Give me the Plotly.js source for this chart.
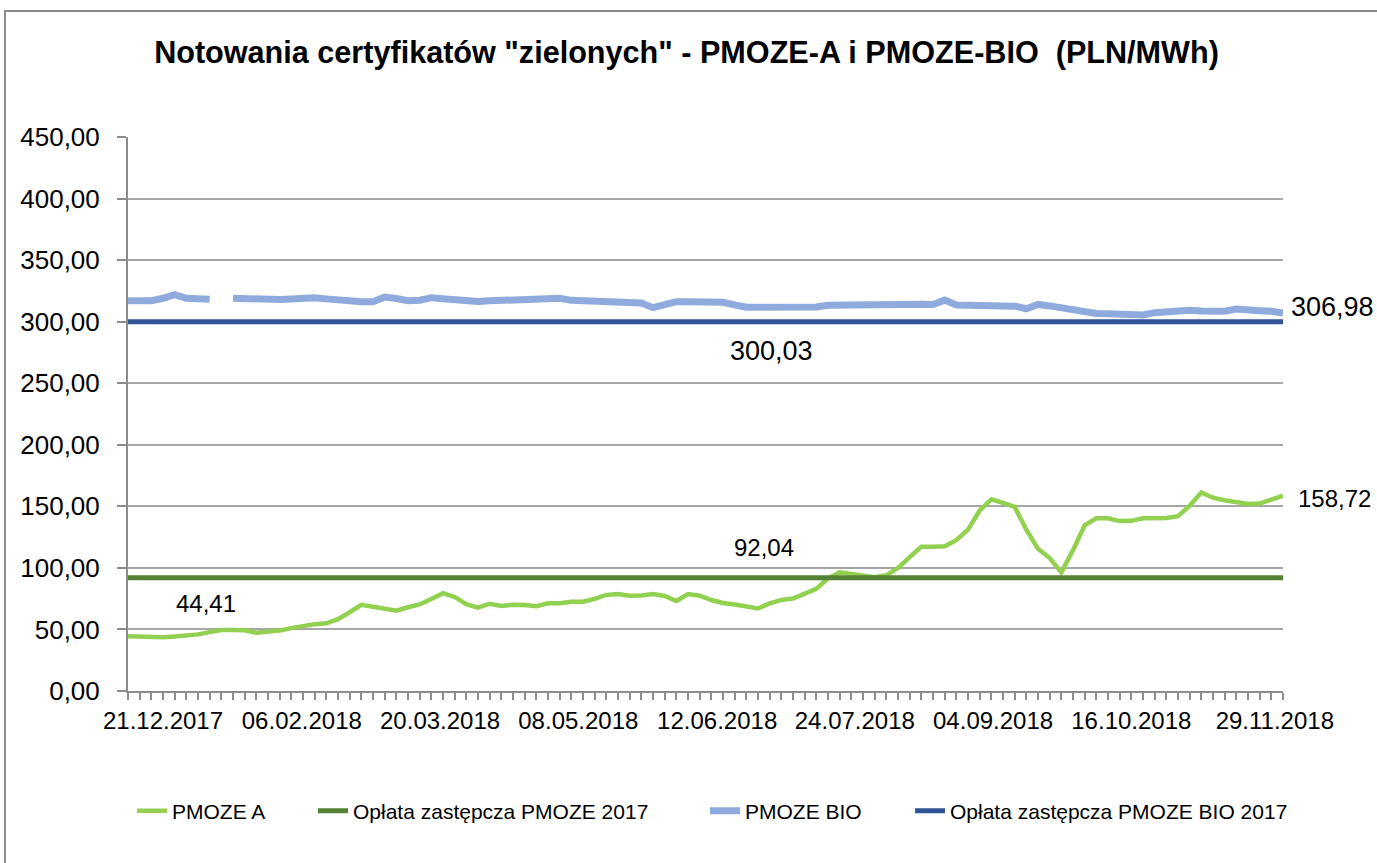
<!DOCTYPE html>
<html>
<head>
<meta charset="utf-8">
<script src="https://cdn.plot.ly/plotly-3.0.1.min.js"></script>
<style>
  html, body { margin: 0; padding: 0; background: #fff; overflow: hidden; }
  #chart { position: absolute; left: 0; top: 0; width: 1377px; height: 863px; }
  #frame { position: absolute; left: 4px; top: 10px; width: 1500px; height: 1000px;
           border: 2px solid #8c8c8c; box-sizing: border-box; pointer-events: none; }
</style>
</head>
<body>
<div id="chart"></div>
<div id="frame"></div>
<script>
// Category tick labels (roughly every 12th session shown)
const tickLabels = ['21.12.2017','06.02.2018','20.03.2018','08.05.2018','12.06.2018','24.07.2018','04.09.2018','16.10.2018','29.11.2018'];
const tickIndex = [3, 14.9, 26.75, 38.6, 50.5, 62.3, 74.15, 86, 98.3];

// PMOZE A (PLN/MWh) per session
const pmozeA = [44.41, 44.0, 43.8, 43.7, 44.2, 44.7, 46.0, 47.8, 49.5, 49.5,
  49.3, 47.4, 48.1, 49.2, 51.1, 52.9, 54.3, 55.0, 58.4, 64.0,
  70.0, 68.5, 66.7, 65.3, 68.0, 70.3, 74.8, 79.4, 76.4, 70.6,
  67.7, 70.9, 69.1, 70.0, 69.8, 68.8, 71.2, 71.2, 72.5, 72.5,
  74.9, 78.0, 78.7, 77.4, 77.5, 78.8, 77.2, 73.1, 78.8, 77.4,
  73.9, 71.5, 70.2, 68.5, 67.0, 71.2, 74.0, 75.1, 78.9, 83.0,
  91.5, 96.3, 95.0, 93.3, 92.5, 94.0, 100.0, 108.8, 117.2, 117.2,
  117.6, 122.5, 131.1, 146.6, 155.7, 152.8, 149.5, 131.0, 115.5, 108.0,
  96.4, 114.4, 134.5, 140.3, 140.3, 138.0, 138.2, 140.3, 140.3, 140.5,
  142.0, 150.5, 161.3, 157.0, 155.0, 153.2, 151.9, 152.2, 155.4, 158.72];

// PMOZE BIO (PLN/MWh) per session; null = no quote
const pmozeBio = [317.0, 317.0, 317.0, 319.0, 322.0, 319.0, 318.6, 318.3, null, 319.0,
  318.5, 318.0, 317.6, 318.0, 318.5, 319.0, 319.4, 318.5, 317.5, 316.5,
  316.2, 316.2, 320.0, 318.8, 317.0, 317.4, 319.5, 318.7, 317.5, 316.7,
  316.4, 316.9, 317.4, 317.9, 318.3, 318.5, 318.8, 319.0, 317.3, 316.9,
  316.7, 316.6, 316.4, 316.3, 315.2, 311.4, 314.1, 316.2, 316.2, 316.2,
  316.2, 315.7, 313.7, 311.8, 311.7, 311.7, 311.7, 311.7, 311.7, 312.0,
  313.3, 313.5, 313.5, 313.5, 313.5, 313.5, 313.5, 315.0, 314.2, 313.9,
  317.5, 313.6, 313.2, 313.0, 312.1, 312.2, 312.6, 310.5, 314.0, 312.8,
  311.4, 308.8, 307.6, 306.7, 306.5, 306.0, 305.4, 305.4, 307.3, 308.2,
  309.0, 309.3, 308.6, 308.0, 308.5, 310.2, 308.9, 308.9, 308.4, 306.98];

// Substitute fees 2017
const feeA = 92.04;
const feeBio = 300.03;

const seriesNames = ['PMOZE A', 'Opłata zastępcza PMOZE 2017', 'PMOZE BIO', 'Opłata zastępcza PMOZE BIO 2017'];

const idx = pmozeA.map((_, i) => i);
const last = idx.length - 1;
const fmt = v => v.toFixed(2).replace('.', ',');

const FONT = '"Liberation Sans", Arial, sans-serif';
const W = 1377;

const traces = [
  { x: idx, y: pmozeA, name: seriesNames[0], type: 'scatter', mode: 'lines', legend: 'legend',
    line: { color: '#92D050', width: 4.5 } },
  { x: idx, y: idx.map(() => feeA), name: seriesNames[1], type: 'scatter', mode: 'lines', legend: 'legend2',
    line: { color: '#548235', width: 5 } },
  { x: idx, y: pmozeBio, name: seriesNames[2], type: 'scatter', mode: 'lines', connectgaps: false, legend: 'legend3',
    line: { color: '#8FAADC', width: 7 } },
  { x: idx, y: idx.map(() => feeBio), name: seriesNames[3], type: 'scatter', mode: 'lines', legend: 'legend4',
    line: { color: '#2F5597', width: 5 } }
];

const fontA = { family: FONT, size: 24, color: '#000' };
const fontB = { family: FONT, size: 27, color: '#000' };
const annotations = [
  { x: 0, y: pmozeA[0], text: fmt(pmozeA[0]), xref: 'x', yref: 'y', showarrow: false,
    xanchor: 'left', yanchor: 'middle', xshift: 46, yshift: 33, font: fontA },
  { x: 55, y: feeBio, text: fmt(feeBio), xref: 'x', yref: 'y', showarrow: false,
    xanchor: 'center', yanchor: 'middle', xshift: 2, yshift: -29, font: fontB },
  { x: 55, y: feeA, text: fmt(feeA), xref: 'x', yref: 'y', showarrow: false,
    xanchor: 'center', yanchor: 'middle', xshift: -6, yshift: 30, font: fontA },
  { x: last, y: pmozeBio[last], text: fmt(pmozeBio[last]), xref: 'x', yref: 'y', showarrow: false,
    xanchor: 'left', yanchor: 'middle', xshift: 6, yshift: 6, font: fontB },
  { x: last, y: pmozeA[last], text: fmt(pmozeA[last]), xref: 'x', yref: 'y', showarrow: false,
    xanchor: 'left', yanchor: 'middle', xshift: 13, yshift: -3, font: fontA }
];

const legFont = { family: FONT, size: 21, color: '#000' };
const legY = (691 - 811) / 554;
const mkLegend = px => ({ orientation: 'h', xref: 'container', x: px / W, xanchor: 'left',
  y: legY, yanchor: 'middle', font: legFont, itemwidth: 30, bgcolor: 'rgba(0,0,0,0)' });

const layout = {
  width: 1377, height: 863,
  margin: { l: 128, r: 94, t: 137, b: 172, autoexpand: false },
  paper_bgcolor: 'rgba(0,0,0,0)', plot_bgcolor: '#fff',
  separators: ', ',
  showlegend: true,
  title: { text: '<b>Notowania certyfikatów "zielonych" - PMOZE-A i PMOZE-BIO  (PLN/MWh)</b>',
    font: { family: FONT, size: 30.6, color: '#000' },
    x: 686.5 / W, xanchor: 'center', xref: 'container', y: 1 - 52 / 863, yanchor: 'middle' },
  xaxis: {
    range: [0, last], tickmode: 'array', tickvals: tickIndex, ticktext: tickLabels,
    ticks: 'outside', ticklen: 7, tickwidth: 2, tickcolor: 'rgba(0,0,0,0)', automargin: false,
    minor: { tickmode: 'linear', tick0: 0, dtick: 1, ticks: 'outside', ticklen: 7, tickwidth: 2, tickcolor: '#8c8c8c', showgrid: false },
    showline: true, linecolor: '#8c8c8c', linewidth: 2,
    showgrid: false, zeroline: false,
    tickfont: { family: FONT, size: 24, color: '#000' }
  },
  yaxis: {
    range: [0, 450], dtick: 50, tick0: 0, tickformat: '.2f', automargin: false,
    ticks: 'outside', ticklen: 9, tickwidth: 2, tickcolor: '#8c8c8c', ticklabelstandoff: 12,
    showline: true, linecolor: '#8c8c8c', linewidth: 2,
    showgrid: true, gridcolor: '#a6a6a6', gridwidth: 2, zeroline: false,
    tickfont: { family: FONT, size: 26, color: '#000' }
  },
  legend: mkLegend(132),
  legend2: mkLegend(313),
  legend3: mkLegend(705),
  legend4: mkLegend(910),
  annotations: annotations
};

Plotly.newPlot('chart', traces, layout, { displayModeBar: false, staticPlot: true });
</script>
</body>
</html>
